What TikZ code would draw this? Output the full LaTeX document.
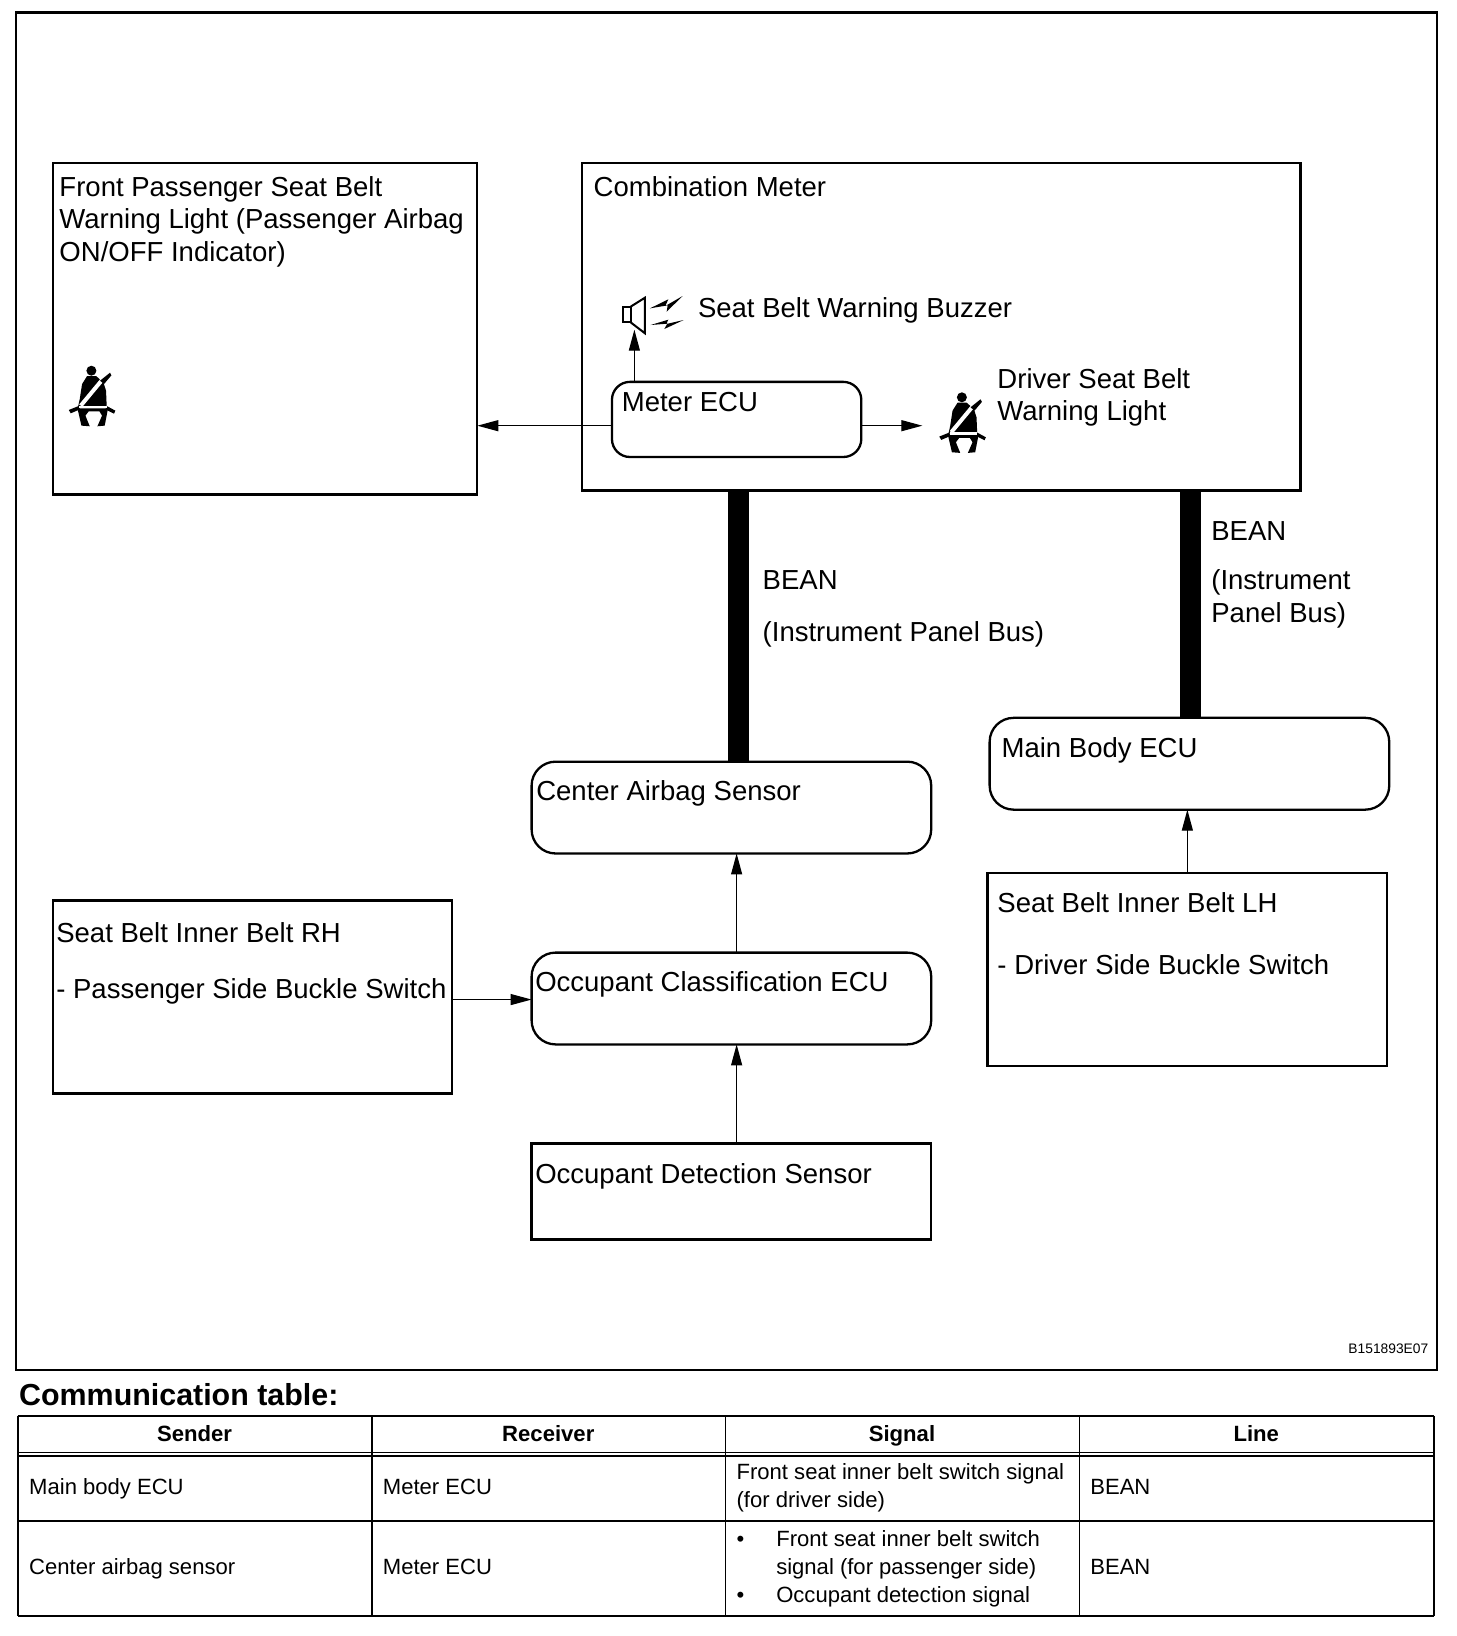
\documentclass[tikz,border=0pt]{standalone}
\usepackage{fontspec}
\setmainfont{Liberation Sans}
\usetikzlibrary{fit,arrows.meta}
\tikzset{
  x=0.52168pt,y=-0.52168pt,
  sq/.style={draw,line width=1.15pt,inner sep=0pt,outer sep=0pt,line join=miter},
  rd/.style={sq,rounded corners=9pt},
  lab/.style={anchor=north west,inner sep=0pt,outer sep=0pt,align=left,yshift=11pt,
    font=\fontsize{13.76}{16.4}\selectfont,execute at begin node={\rule{0pt}{11pt}}},
  cell/.style={lab,font=\fontsize{11.03}{14.1}\selectfont},
  head/.style={anchor=base,inner sep=0pt,outer sep=0pt,font=\fontsize{11.05}{14}\selectfont\bfseries},
  arr/.style={line width=0.6pt,-{Triangle[length=10.5pt,width=5.5pt]}},
  bus/.style={line width=10.4pt},
  thin rule/.style={line width=0.7pt},
  thick rule/.style={line width=1pt},
  beltman/.pic={
    \begin{scope}[scale=0.319]
      \fill (0,0) circle (15);
      \fill (-13,16) -- (-28,40) -- (-35,85) -- (-40,108) -- (46,108) -- (44,60) -- (36,35) -- (14,16) -- cycle;
      \fill (-68,118) -- (-38,106) -- (-34,116) -- (-62,128) -- cycle;
      \fill (46,106) -- (72,120) -- (68,129) -- (42,116) -- cycle;
      \fill (-42,113) -- (-30,165) -- (-5,167) -- (-18,135) -- (-8,122) -- (24,122) -- (32,135) -- (18,167) -- (40,165) -- (50,113) -- cycle;
      \draw[white,line width=2pt] (-32,105) -- (32,28);
      \draw[white,line width=1.2pt] (-36,109) -- (46,109);
      \fill (26,30) -- (56,6) -- (60,14) -- (38,40) -- cycle;
    \end{scope}
  }
}
\begin{document}
\begin{tikzpicture}
\useasboundingbox (0,0) rectangle (1395.5,1568);
% frame
\node[sq,fit={(15.5,12) (1377.5,1313)}] (frame) {};
% boxes
\node[sq,fit={(50.5,156) (457.5,474)}] (front) {};
\node[sq,fit={(557.5,156) (1246.5,470)}] (combo) {};
\node[rd,fit={(586.5,366) (825.5,438)}] (meter) {};
\node[rd,rounded corners=12pt,fit={(509.5,730) (892.5,818)}] (airbag) {};
\node[rd,rounded corners=12pt,fit={(948.5,688) (1331.5,776)}] (mainbody) {};
\node[sq,fit={(946.5,837) (1329.5,1022)}] (lh) {};
\node[sq,fit={(50.5,863) (433.5,1048)}] (rh) {};
\node[rd,rounded corners=12pt,fit={(509.5,913) (892.5,1001)}] (occclass) {};
\node[sq,fit={(509.5,1096) (892.5,1188)}] (occdet) {};
% labels
\node[lab] (tfront) at (57,190) {Front Passenger Seat Belt\\Warning Light (Passenger Airbag\\ON/OFF Indicator)};
\node[lab] (tcombo) at (569,188) {Combination Meter};
\node[lab] (tbuzz) at (669,304) {Seat Belt Warning Buzzer};
\node[lab] (tmeter) at (596,394) {Meter ECU};
\node[lab] (tdriver) at (956,374) {Driver Seat Belt\\Warning Light};
\node[lab] (tbean1) at (731,565) {BEAN};
\node[lab] (tbus1) at (731,615) {(Instrument Panel Bus)};
\node[lab] (tbean2) at (1161,518) {BEAN};
\node[lab] (tbus2) at (1161,567) {(Instrument\\Panel Bus)};
\node[lab] (tmain) at (960,726) {Main Body ECU};
\node[lab] (tairbag) at (514,767) {Center Airbag Sensor};
\node[lab] (tlh1) at (956,875) {Seat Belt Inner Belt LH};
\node[lab] (tlh2) at (956,934) {- Driver Side Buckle Switch};
\node[lab] (trh1) at (54,903) {Seat Belt Inner Belt RH};
\node[lab] (trh2) at (54,957) {- Passenger Side Buckle Switch};
\node[lab] (tclass) at (513,950) {Occupant Classification ECU};
\node[lab] (tdet) at (513,1134) {Occupant Detection Sensor};
\node[anchor=base west,inner sep=0pt,font=\fontsize{6.9}{8}\selectfont] (tcode) at (1292,1297) {B151893E07};
% icons
\pic (manA) at (87.6,355.3) {beltman};
\pic (manB) at (921.9,380.8) {beltman};
% buzzer icon
\begin{scope}[shift={(536.7,249.2)},scale=0.3195]
  \draw[line width=1pt] (188,140) rectangle (212,187);
  \draw[line width=1pt,line join=miter] (212,140) -- (255,113) -- (255,220) -- (212,187);
  \fill (270,145) -- (325,118) -- (316,138) -- (368,108) -- (320,155) -- (323,136) -- cycle;
  \fill (272,195) -- (325,179) -- (319,192) -- (371,180) -- (313,207) -- (322,191) -- cycle;
\end{scope}
\coordinate (buzzpt) at (608,316);
\coordinate (lightpt) at (884,408);
\coordinate (xbuzz) at (608,0);
\coordinate (ymeter) at (0,408);
\coordinate (xbusA) at (708,0);
\coordinate (xbusB) at (1141,0);
\coordinate (xarr) at (706,0);
\coordinate (yrh) at (0,958);
% connectors
\draw[arr] (meter.west |- ymeter) -- (front.east |- ymeter);
\draw[arr] (meter.east |- ymeter) -- (lightpt);
\draw[arr] (xbuzz |- meter.north) -- (buzzpt);
\draw[bus] (xbusA |- combo.south) -- (xbusA |- airbag.north);
\draw[bus] (xbusB |- combo.south) -- (xbusB |- mainbody.north);
\draw[arr] (xarr |- occclass.north) -- (xarr |- airbag.south);
\draw[arr] (xarr |- occdet.north) -- (xarr |- occclass.south);
\draw[arr] (rh.east |- yrh) -- (occclass.west |- yrh);
\draw[arr] (lh.north) -- (lh.north |- mainbody.south);
% table
\node[anchor=base west,inner sep=0pt,font=\fontsize{15.2}{18}\selectfont\bfseries] (ttitle) at (18,1347) {Communication table:};
\draw[thick rule] (17,1357) -- (1374.5,1357);
\draw[thin rule] (17,1392) -- (1374.5,1392);
\draw[thin rule] (17,1395.5) -- (1374.5,1395.5);
\draw[thick rule] (17,1457.5) -- (1374.5,1457.5);
\draw[thick rule] (17,1548.5) -- (1374.5,1548.5);
\foreach \xx in {17.3,356.5,695.5,1034.5,1374.3} \draw[thin rule] (\xx,1357) -- (\xx,1548.5);
\node[head] (h1) at (186.5,1382) {Sender};
\node[head] (h2) at (525.5,1382) {Receiver};
\node[head] (h3) at (864.5,1382) {Signal};
\node[head] (h4) at (1204,1382) {Line};
\node[cell] (c11) at (28,1432) {Main body ECU};
\node[cell] (c12) at (367,1432) {Meter ECU};
\node[cell] (c13) at (706,1424) {Front seat inner belt switch signal\\(for driver side)};
\node[cell] (c14) at (1045,1432) {BEAN};
\node[cell] (c21) at (28,1509) {Center airbag sensor};
\node[cell] (c22) at (367,1509) {Meter ECU};
\node[cell] (b1) at (706,1482) {•};
\node[cell] (c23a) at (744,1488) {Front seat inner belt switch\\signal (for passenger side)};
\node[cell] (b2) at (706,1536) {•};
\node[cell] (c23b) at (744,1536) {Occupant detection signal};
\node[cell] (c24) at (1045,1509) {BEAN};
\end{tikzpicture}
\end{document}
